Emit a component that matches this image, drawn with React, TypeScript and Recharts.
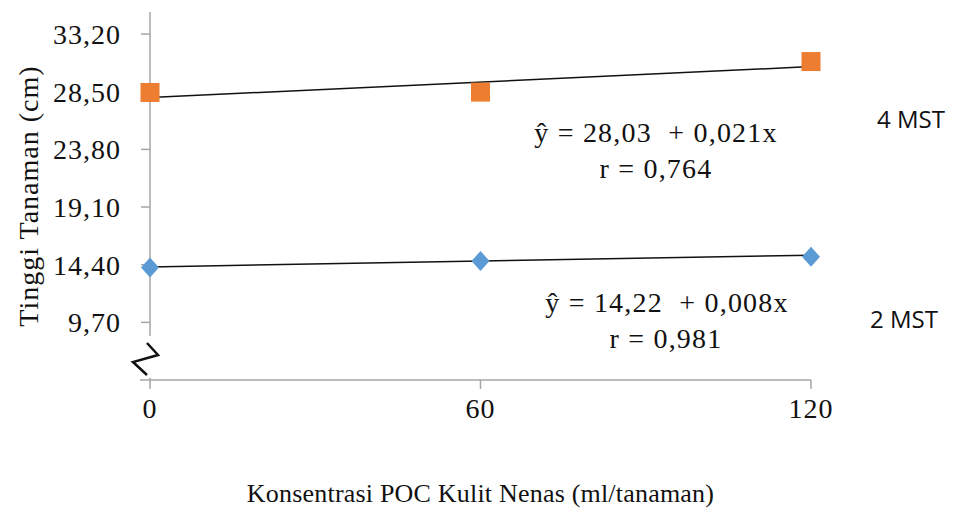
import React from 'react';
import { ComposedChart, Scatter, XAxis, YAxis, ReferenceLine, ReferenceDot } from 'recharts';

// dosis POC (ml/tanaman)
const doses = [0, 60, 120];
// tinggi tanaman (cm)
const mst4 = [28.44, 28.47, 30.96];
const mst2 = [14.17, 14.70, 15.04];
const yTicks = [9.7, 14.4, 19.1, 23.8, 28.5, 33.2];
const xTicks = [0, 60, 120];
// regresi linier y = a + bx
const fit4 = { a: 28.03, b: 0.021 };
const fit2 = { a: 14.22, b: 0.008 };

const data4 = doses.map((d, i) => ({ x: d, y: mst4[i] }));
const data2 = doses.map((d, i) => ({ x: d, y: mst2[i] }));

const SERIF = '"Liberation Serif", "Times New Roman", serif';
const SANS = '"Open Sans", "Noto Sans", sans-serif';
const AXIS = '#a6a6a6';

const fmt = (v: number) => v.toFixed(2).replace('.', ',');

const SquareMark = (props: any) => {
    const { cx, cy } = props;
    return <rect x={cx - 9.5} y={cy - 9.5} width={19} height={19} fill="#ED7D31" />;
};

const DiamondMark = (props: any) => {
    const { cx, cy } = props;
    return <path d={`M${cx},${cy - 10}L${cx + 9},${cy}L${cx},${cy + 10}L${cx - 9},${cy}Z`} fill="#5B9BD5" />;
};

// tanda patah sumbu Y
const AxisBreak = (props: any) => {
    const { cx, cy } = props;
    return (
        <g>
            <rect x={cx - 5} y={cy - 44} width={10} height={42} fill="#fff" />
            <line x1={cx - 10} y1={cy} x2={cx} y2={cy} stroke={AXIS} strokeWidth={1.5} />
            <polyline
                points={`${cx - 3},${cy - 37} ${cx + 8},${cy - 25} ${cx - 17},${cy - 18} ${cx - 3},${cy - 5}`}
                fill="none" stroke="#111" strokeWidth={2.5} />
        </g>
    );
};

const YLabel = (props: any) => {
    const { viewBox } = props;
    const x = viewBox.x + 28;
    const y = viewBox.y + viewBox.height / 2;
    return (
        <text x={x} y={y} transform={`rotate(-90, ${x}, ${y})`} textAnchor="middle" dominantBaseline="central"
            fontFamily={SERIF} fontSize={28} fill="#111" letterSpacing={1}>
            Tinggi Tanaman (cm)
        </text>
    );
};

const eqStyle = { fontFamily: SERIF, fontSize: 28, fill: '#111', letterSpacing: 1.2, whiteSpace: 'pre' as const };
const mstStyle = { fontFamily: SANS, fontSize: 24, fill: '#111' };

export default function App() {
    return (
        <div style={{ position: 'absolute', left: 0, top: 0, background: '#fff' }}>
            <ComposedChart width={956} height={512} margin={{ top: 12, right: 145, left: 0, bottom: 0 }}>
                <XAxis type="number" dataKey="x" domain={[0, 120]} ticks={xTicks} height={132}
                    stroke={AXIS} strokeWidth={1.5} tickSize={9} tickMargin={9}
                    tick={{ fontFamily: SERIF, fontSize: 28, fill: '#111', letterSpacing: 1 }}
                    label={{ value: 'Konsentrasi POC Kulit Nenas (ml/tanaman)', position: 'insideBottom', offset: 10,
                        style: { fontFamily: SERIF, fontSize: 26, fill: '#111', letterSpacing: 0.2 } }} />
                <YAxis type="number" dataKey="y" domain={[5, 35]} ticks={yTicks} width={150} interval={0}
                    stroke={AXIS} strokeWidth={1.5} tickSize={9} tickMargin={20} tickFormatter={fmt}
                    tick={{ fontFamily: SERIF, fontSize: 28, fill: '#111', letterSpacing: 1 }}
                    label={{ content: <YLabel /> }} />
                <ReferenceDot x={0} y={5} r={0} ifOverflow="visible" shape={<AxisBreak />} />
                <Scatter name="4 MST" data={data4} dataKey="y" shape={<SquareMark />} isAnimationActive={false} />
                <Scatter name="2 MST" data={data2} dataKey="y" shape={<DiamondMark />} isAnimationActive={false} />
                <ReferenceLine ifOverflow="visible" stroke="#111" strokeWidth={1.5}
                    segment={[{ x: 0, y: fit4.a }, { x: 120, y: fit4.a + fit4.b * 120 }]} />
                <ReferenceLine ifOverflow="visible" stroke="#111" strokeWidth={1.5}
                    segment={[{ x: 0, y: fit2.a }, { x: 120, y: fit2.a + fit2.b * 120 }]} />
                <text x={656} y={142} textAnchor="middle" style={eqStyle}>{'ŷ = 28,03  + 0,021x'}</text>
                <text x={656} y={178} textAnchor="middle" style={eqStyle}>r = 0,764</text>
                <text x={667} y={312} textAnchor="middle" style={eqStyle}>{'ŷ = 14,22  + 0,008x'}</text>
                <text x={666} y={348} textAnchor="middle" style={eqStyle}>r = 0,981</text>
                <text x={877} y={128} style={mstStyle}>4 MST</text>
                <text x={870} y={328} style={mstStyle}>2 MST</text>
            </ComposedChart>
        </div>
    );
}
